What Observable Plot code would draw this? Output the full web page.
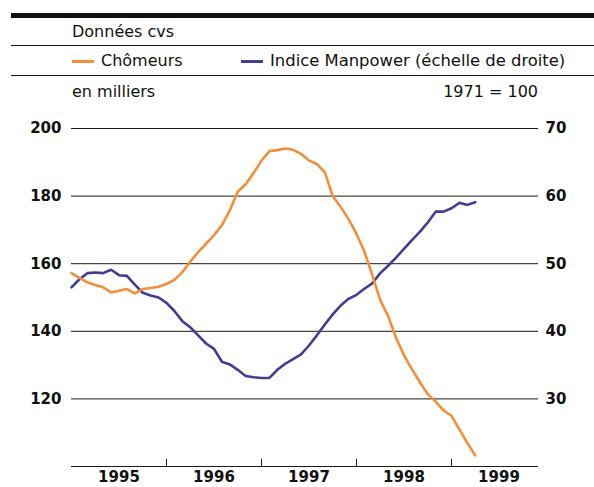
<!DOCTYPE html>
<html>
<head>
<meta charset="utf-8">
<script src="https://cdn.jsdelivr.net/npm/d3@7"></script>
<script src="https://cdn.jsdelivr.net/npm/@observablehq/plot@0.6"></script>
<style>
  html, body { margin: 0; padding: 0; background: #fff; }
  #wrap { position: relative; width: 594px; height: 487px; overflow: hidden; font-family: "DejaVu Sans", sans-serif; color: #111; }
  .hdr { position: absolute; font-size: 16px; line-height: 16px; white-space: nowrap; }
  .rule { position: absolute; background: #111; }
  .dash { position: absolute; height: 3px; }
  #chart { position: absolute; left: 0; top: 100px; }
  #chart svg text { font-family: "DejaVu Sans", sans-serif; font-weight: bold; font-size: 15px; fill: #111; }
</style>
</head>
<body>
<div id="wrap">
  <div class="rule" style="left:11px; top:13px; width:583px; height:5px;"></div>
  <div class="hdr" style="left:72px; top:24px;">Données cvs</div>
  <div class="rule" style="left:11px; top:45px; width:583px; height:1px;"></div>
  <div class="dash" style="left:72px; top:60px; width:22px; background:#f28e3c;"></div>
  <div class="hdr" style="left:101px; top:53px;">Chômeurs</div>
  <div class="dash" style="left:241px; top:60px; width:22px; background:#3f3d94;"></div>
  <div class="hdr" style="left:270px; top:53px; font-size:16.4px;">Indice Manpower (échelle de droite)</div>
  <div class="rule" style="left:11px; top:75px; width:583px; height:1px;"></div>
  <div class="hdr" style="left:72px; top:84px;">en milliers</div>
  <div class="hdr" style="right:56px; top:84px;">1971 = 100</div>
  <div id="chart"></div>
</div>
<script>
// Monthly values, January 1995 to April 1999
const startYear = 1995;
const chomeurs = [
  157.2, 155.8, 154.5, 153.7, 153.0, 151.5, 152.0, 152.5, 151.2, 152.5, 152.8, 153.2,
  154.0, 155.2, 157.5, 160.6, 163.4, 165.9, 168.4, 171.4, 175.8, 181.3, 183.5, 186.8,
  190.5, 193.3, 193.6, 194.1, 193.7, 192.5, 190.5, 189.5, 187.0, 180.0, 176.8, 173.2,
  168.8, 163.6, 156.6, 149.2, 144.5, 138.1, 132.9, 128.8, 125.0, 121.4, 119.2, 116.6,
  115.0, 111.0, 107.0, 103.3
];
const manpower = [
  46.5, 47.7, 48.6, 48.7, 48.6, 49.1, 48.3, 48.2, 46.9, 45.7, 45.3, 45.0,
  44.2, 43.0, 41.5, 40.6, 39.4, 38.2, 37.4, 35.5, 35.1, 34.3, 33.4, 33.2,
  33.1, 33.1, 34.3, 35.2, 35.9, 36.6, 37.9, 39.4, 41.0, 42.5, 43.8, 44.8,
  45.4, 46.3, 47.1, 48.6, 49.7, 50.9, 52.2, 53.5, 54.7, 56.1, 57.7, 57.7,
  58.2, 59.0, 58.7, 59.1
];
const years = [1995, 1996, 1997, 1998, 1999];
const leftTicks = [120, 140, 160, 180, 200];
const rightTicks = [30, 40, 50, 60, 70];
const yearBreaks = [1996, 1997, 1998, 1999];

const xMax = 1999.916;
const toLeft = r => 2 * (r + 30);   // right scale (1971=100) -> left scale (milliers)
const toRight = v => v / 2 - 30;

const dataC = chomeurs.map((v, i) => ({x: startYear + i / 12, v}));
const dataM = manpower.map((v, i) => ({x: startYear + i / 12, v}));

const chart = Plot.plot({
  width: 594,
  height: 387,
  marginLeft: 71,
  marginRight: 56,
  marginTop: 28,
  marginBottom: 21,
  x: {type: "linear", domain: [startYear, xMax]},
  y: {domain: [100, 200]},
  marks: [
    Plot.ruleY(leftTicks, {x1: startYear, x2: xMax, stroke: "#1a1a1a", strokeWidth: 1}),
    Plot.ruleY([100], {x1: startYear, x2: xMax, stroke: "#1a1a1a", strokeWidth: 1}),
    Plot.ruleX(yearBreaks, {y1: 100, y2: 102.1, stroke: "#1a1a1a", strokeWidth: 1}),
    Plot.axisX(years.map(y => y + 0.5), {tickSize: 0, tickPadding: 5, tickFormat: d => String(Math.floor(d)), label: null}),
    Plot.axisY(leftTicks, {anchor: "left", tickSize: 0, tickPadding: 10, label: null}),
    Plot.axisY(rightTicks.map(toLeft), {anchor: "right", tickSize: 0, tickPadding: 7, tickFormat: d => String(toRight(d)), label: null}),
    Plot.line(dataM, {x: "x", y: d => toLeft(d.v), stroke: "#3f3d94", strokeWidth: 2.6, strokeLinejoin: "round"}),
    Plot.line(dataC, {x: "x", y: "v", stroke: "#f28e3c", strokeWidth: 2.6, strokeLinejoin: "round"})
  ]
});
document.getElementById("chart").appendChild(chart);
</script>
</body>
</html>
